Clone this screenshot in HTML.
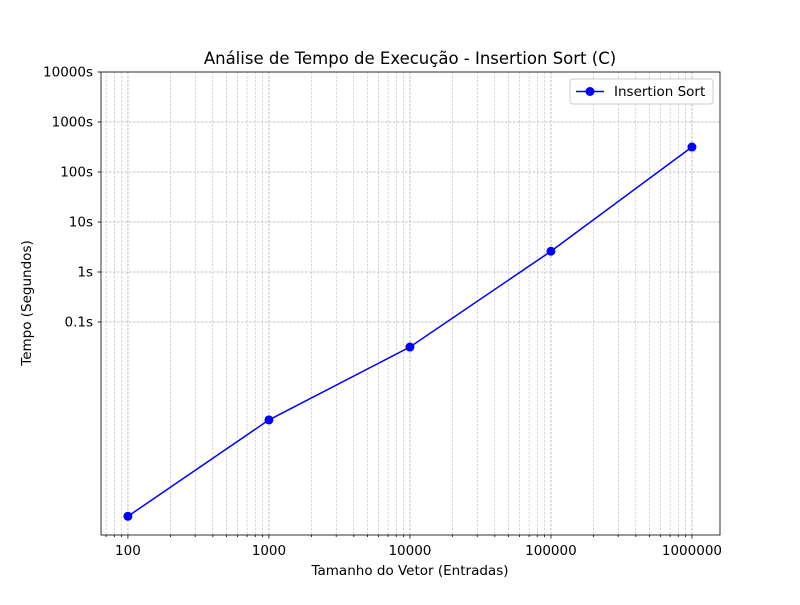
<!DOCTYPE html>
<html><head><meta charset="utf-8"><style>body{margin:0;background:#fff}svg{font-family:"DejaVu Sans","Liberation Sans",sans-serif}</style></head>
<body>
<svg id="c" width="800" height="600"></svg>
<script>
const sizes=[100,1000,10000,100000,1000000];
const times=[0.000013,0.0011,0.0316,2.6,316];
const xTickVals=[100,1000,10000,100000,1000000];
const xTickLabels=["100","1000","10000","100000","1000000"];
const yTickVals=[0.1,1,10,100,1000,10000];
const yTickLabels=["0.1s","1s","10s","100s","1000s","10000s"];
const L=101,R=720,T=72,B=535;
const xMin=1.809,xMax=6.199,yMin=-5.26,yMax=4;
const X=v=>L+(Math.log10(v)-xMin)/(xMax-xMin)*(R-L);
const Y=v=>B-(Math.log10(v)-yMin)/(yMax-yMin)*(B-T);
const s=document.getElementById('c');const NS='http://www.w3.org/2000/svg';
function mk(t,a,txt){const e=document.createElementNS(NS,t);for(const k in a)e.setAttribute(k,a[k]);if(txt!=null)e.textContent=txt;s.appendChild(e);return e;}
for(let d=1;d<=6;d++)for(let m=1;m<10;m++){const v=m*Math.pow(10,d);const x=X(v);if(x<L||x>R)continue;
 const g=mk('line',{x1:x,x2:x,y1:T,y2:B,stroke:'#b0b0b0','stroke-width':m==1?0.8:0.5,'stroke-dasharray':'2.5,1.5'});
 
 const t=mk('line',{x1:x,x2:x,y1:B,y2:B+(m==1?3.5:2),stroke:'#000','stroke-width':0.8});
 }
yTickVals.forEach((v,i)=>{const y=Y(v);
 const g=mk('line',{x1:L,x2:R,y1:y,y2:y,stroke:'#b0b0b0','stroke-width':0.8,'stroke-dasharray':'2.5,1.5'});
 
 mk('line',{x1:L-3.5,x2:L,y1:y,y2:y,stroke:'#000','stroke-width':0.8});
 const t=mk('text',{x:L-8,y:y+4.5,'text-anchor':'end','font-size':13.5},yTickLabels[i]);
 });
xTickVals.forEach((v,i)=>{const t=mk('text',{x:X(v),y:B+20,'text-anchor':'middle','font-size':13.5},xTickLabels[i]);
 });
const fr=mk('rect',{x:L,y:T,width:R-L,height:B-T,fill:'none',stroke:'#000','stroke-width':0.8});

const ln=mk('polyline',{points:sizes.map((v,i)=>X(v)+','+Y(times[i])).join(' '),fill:'none',stroke:'#0000ff','stroke-width':1.5});

sizes.forEach((v,i)=>{const c=mk('circle',{cx:X(v),cy:Y(times[i]),r:4.5,fill:'#0000ff'});
 });
const ti=mk('text',{x:410,y:64,'text-anchor':'middle','font-size':16.5},'Análise de Tempo de Execução - Insertion Sort (C)');

const xt=mk('text',{x:410,y:575,'text-anchor':'middle','font-size':13.5},'Tamanho do Vetor (Entradas)');

const yt=mk('text',{x:31,y:303,'text-anchor':'middle','font-size':13.5,transform:'rotate(-90 31 303)'},'Tempo (Segundos)');

const lg=mk('rect',{x:570,y:79,width:143,height:25,fill:'#fff',stroke:'#ccc',rx:3});

mk('line',{x1:576,x2:604,y1:91.5,y2:91.5,stroke:'#0000ff','stroke-width':1.5});
mk('circle',{cx:590,cy:91.5,r:4.5,fill:'#0000ff'});
const lt=mk('text',{x:614,y:96,'font-size':13.5},'Insertion Sort');

</script>
</body></html>
